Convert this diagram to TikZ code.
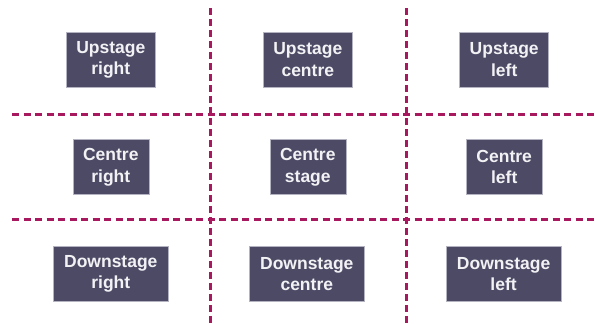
\documentclass[tikz,border=0pt]{standalone}
\usepackage{fontspec}
\setmainfont{Liberation Sans}
\definecolor{boxfill}{HTML}{4D4A66}
\definecolor{boxedge}{HTML}{B4B3C2}
\definecolor{gridline}{HTML}{A8185F}
\definecolor{boxtext}{HTML}{F2F2F5}
\begin{document}
\begin{tikzpicture}[x=1pt,y=-1pt,
  stagebox/.style={draw=boxedge,line width=0.6pt,fill=boxfill,text=boxtext,
    font=\fontsize{17.5}{21.5}\selectfont\bfseries,align=center,
    minimum height=55.5pt,inner sep=0pt},
  upw/.style={minimum width=89pt},
  cew/.style={minimum width=76pt},
  dnw/.style={minimum width=115pt},
  hline/.style={draw=gridline,line width=3pt,dash pattern=on 7pt off 4.5pt},
  vline/.style={draw=gridline,line width=3pt,dash pattern=on 6.5pt off 4.5pt}]
\useasboundingbox (0,0) rectangle (595,324);
% grid lines
\coordinate (h1a) at (12,114);
\coordinate (h1b) at (595,114);
\coordinate (h2a) at (12,219.5);
\coordinate (h2b) at (595,219.5);
\coordinate (v1a) at (210.3,8);
\coordinate (v1b) at (210.3,324);
\coordinate (v2a) at (406,8);
\coordinate (v2b) at (406,324);
\draw[vline] (v1a) -- (v1b);
\draw[vline] (v2a) -- (v2b);
\draw[hline] (h1a) -- (h1b);
\draw[hline] (h2a) -- (h2b);
% boxes
\node[stagebox,upw] (ur) at (110.8,59.8) {Upstage\\right};
\node[stagebox,upw] (uc) at (307.8,59.8) {Upstage\\centre};
\node[stagebox,upw] (ul) at (504.2,59.8) {Upstage\\left};
\node[stagebox,cew] (cr) at (110.8,167) {Centre\\right};
\node[stagebox,cew] (cs) at (307.8,167) {Centre\\stage};
\node[stagebox,cew] (cl) at (504.2,167) {Centre\\left};
\node[stagebox,dnw] (dr) at (110.8,274) {Downstage\\right};
\node[stagebox,dnw] (dc) at (306.8,274) {Downstage\\centre};
\node[stagebox,dnw] (dl) at (503.6,274) {Downstage\\left};
\end{tikzpicture}
\end{document}
